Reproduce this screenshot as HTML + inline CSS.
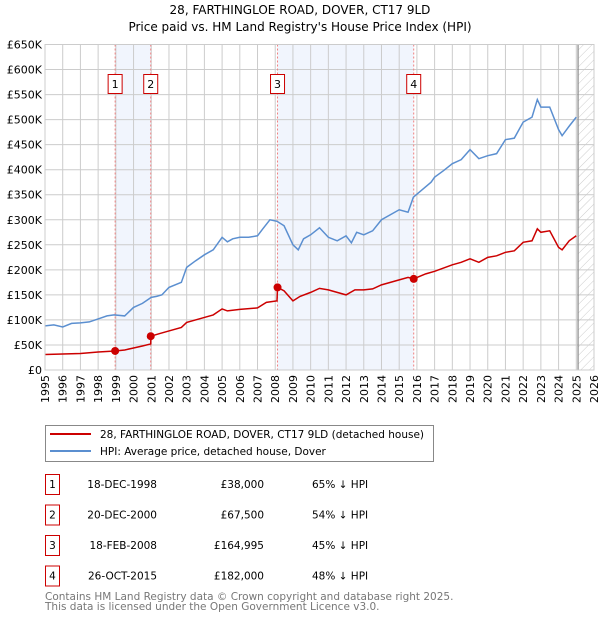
<!DOCTYPE html>
<html><head><meta charset="utf-8"><style>
body{margin:0;background:#fff;font-family:"DejaVu Sans","Liberation Sans",sans-serif;}
svg text{font-family:"DejaVu Sans","Liberation Sans",sans-serif;}
</style></head><body>
<svg id="c" width="600" height="620" xmlns="http://www.w3.org/2000/svg">
<defs><pattern id="hatch" width="6" height="6" patternUnits="userSpaceOnUse" patternTransform="rotate(45)"><line x1="0" y1="0" x2="0" y2="6" stroke="#ccc" stroke-width="1"/></pattern></defs>
<text x="300" y="14" font-size="12" text-anchor="middle">28, FARTHINGLOE ROAD, DOVER, CT17 9LD</text>
<text x="300" y="31" font-size="12" text-anchor="middle">Price paid vs. HM Land Registry's House Price Index (HPI)</text>
<g id="plot"></g>
<g>
<rect x="45.5" y="425.5" width="388" height="36" fill="#fff" stroke="#888"/>
<line x1="50" y1="434" x2="91" y2="434" stroke="#cc0000" stroke-width="2"/>
<text x="100" y="438" font-size="10.5">28, FARTHINGLOE ROAD, DOVER, CT17 9LD (detached house)</text>
<line x1="50" y1="451" x2="91" y2="451" stroke="#5b8fd0" stroke-width="2"/>
<text x="100" y="455" font-size="10.5">HPI: Average price, detached house, Dover</text>
</g>
<g id="table" font-size="10.5"></g>
<text x="45" y="600" font-size="10.5" fill="#777">Contains HM Land Registry data © Crown copyright and database right 2025.</text>
<text x="45" y="610" font-size="10.5" fill="#777">This data is licensed under the Open Government Licence v3.0.</text>
</svg>
<script>
const hpiYears=[1995,1995.5,1996,1996.5,1997,1997.5,1998,1998.5,1998.9,1999.5,2000,2000.5,2001,2001.3,2001.6,2002,2002.7,2003,2003.5,2004,2004.5,2005,2005.3,2005.6,2006,2006.5,2007,2007.3,2007.7,2008.1,2008.5,2009,2009.3,2009.6,2010,2010.5,2011,2011.5,2012,2012.3,2012.6,2013,2013.5,2014,2014.5,2015,2015.5,2015.8,2016.3,2016.8,2017,2017.5,2018,2018.5,2019,2019.5,2020,2020.5,2021,2021.5,2022,2022.5,2022.8,2023,2023.5,2024,2024.2,2024.6,2025];
const hpiValues=[88,90,86,93,94,96,102,108,110,108,125,133,145,147,150,165,175,205,218,230,240,265,256,262,265,265,268,282,300,297,288,250,240,262,270,284,265,258,268,254,275,270,278,300,310,320,315,345,360,375,385,398,412,420,440,422,428,432,460,463,495,505,540,525,525,480,468,487,505];
const saleYears=[1995,1996,1997,1998,1998.96,1999.5,2000,2000.5,2000.97,2000.98,2001.5,2002,2002.7,2003,2003.5,2004,2004.5,2005,2005.3,2006,2007,2007.5,2008.1,2008.13,2008.5,2009,2009.4,2010,2010.5,2011,2012,2012.5,2013,2013.5,2014,2014.5,2015,2015.5,2015.82,2016.5,2017,2018,2018.5,2019,2019.5,2020,2020.5,2021,2021.5,2022,2022.5,2022.8,2023,2023.5,2024,2024.2,2024.6,2025];
const saleValues=[31,32,33,36,38,40,44,48,52,67.5,73,78,85,95,100,105,110,122,118,121,124,135,138,165,158,138,147,155,163,160,150,160,160,162,170,175,180,185,182,192,197,210,215,222,215,225,228,235,238,255,258,282,275,278,245,240,258,268];
const sales=[{n:"1",y:1998.96,v:38,d:"18-DEC-1998",p:"£38,000",h:"65% ↓ HPI"},{n:"2",y:2000.97,v:67.5,d:"20-DEC-2000",p:"£67,500",h:"54% ↓ HPI"},{n:"3",y:2008.13,v:164.995,d:"18-FEB-2008",p:"£164,995",h:"45% ↓ HPI"},{n:"4",y:2015.82,v:182,d:"26-OCT-2015",p:"£182,000",h:"48% ↓ HPI"}];
const yTicks=[0,50,100,150,200,250,300,350,400,450,500,550,600,650];
const xTicks=[1995,1996,1997,1998,1999,2000,2001,2002,2003,2004,2005,2006,2007,2008,2009,2010,2011,2012,2013,2014,2015,2016,2017,2018,2019,2020,2021,2022,2023,2024,2025,2026];
const X0=45,X1=594,Y0=370,Y1=44.5;
const sx=y=>X0+(y-1995)/(2026-1995)*(X1-X0);
const sy=v=>Y0-v/650*(Y0-Y1);
const NS="http://www.w3.org/2000/svg";
const plot=document.getElementById('plot');
function mk(tag,attrs,parent){const e=document.createElementNS(NS,tag);for(const k in attrs)e.setAttribute(k,attrs[k]);(parent||plot).appendChild(e);return e;}
[[0,1],[2,3]].forEach(([a,b])=>{const r=mk('rect',{x:sx(sales[a].y),y:Y1,width:sx(sales[b].y)-sx(sales[a].y),height:Y0-Y1,fill:'#eef3fc',opacity:0.8});

});
const hx=sx(2025.1);
const ha=mk('rect',{x:hx,y:Y1,width:X1-hx,height:Y0-Y1,fill:'url(#hatch)'});


yTicks.forEach(t=>{mk('line',{x1:X0,x2:X1,y1:sy(t),y2:sy(t),stroke:'#ccc','stroke-width':1});
const tx=mk('text',{x:X0-3,y:sy(t)+4,'font-size':11,'text-anchor':'end'});tx.textContent=t===0?'£0':'£'+t+'K';

});
xTicks.forEach(t=>{mk('line',{x1:sx(t),x2:sx(t),y1:Y1,y2:Y0,stroke:'#ccc','stroke-width':1});
const tx=mk('text',{x:0,y:0,'font-size':11,'text-anchor':'end',transform:`translate(${sx(t)+4},${Y0+5}) rotate(-90)`});tx.textContent=t;

});
mk('line',{x1:hx,x2:hx,y1:Y1,y2:Y0,stroke:'#888','stroke-width':1.2});
sales.forEach(s=>{const l=mk('line',{x1:sx(s.y),x2:sx(s.y),y1:Y1,y2:Y0,stroke:'#f08080','stroke-dasharray':'2,2','stroke-width':1});


const bx=sx(s.y);const b=mk('rect',{x:bx-7,y:74.5,width:14,height:19,fill:'#fff',stroke:'#cc0000'});


const t=mk('text',{x:bx,y:88,'font-size':11,'text-anchor':'middle'});t.textContent=s.n;});
const hp=mk('polyline',{points:hpiYears.map((y,i)=>sx(y)+','+sy(hpiValues[i])).join(' '),fill:'none',stroke:'#5b8fd0','stroke-width':1.5});


const pp=mk('polyline',{points:saleYears.map((y,i)=>sx(y)+','+sy(saleValues[i])).join(' '),fill:'none',stroke:'#cc0000','stroke-width':1.5});


sales.forEach(s=>{const c=mk('circle',{cx:sx(s.y),cy:sy(s.v),r:4,fill:'#cc0000'});

});
mk('rect',{x:X0,y:Y1,width:X1-X0,height:Y0-Y1,fill:'none',stroke:'#ccc'});
const tb=document.getElementById('table');
sales.forEach((s,i)=>{const y=484+i*30.5;
const b=mk('rect',{x:45.5,y:y-9.5,width:14,height:20,fill:'#fff',stroke:'#cc0000'},tb);


const t1=mk('text',{x:52.5,y:y+4,'text-anchor':'middle'},tb);t1.textContent=s.n;
const t2=mk('text',{x:157,y:y+4,'text-anchor':'end'},tb);t2.textContent=s.d;


const t3=mk('text',{x:264,y:y+4,'text-anchor':'end'},tb);t3.textContent=s.p;


const t4=mk('text',{x:312,y:y+4},tb);t4.textContent=s.h;

});
</script>
</body></html>
